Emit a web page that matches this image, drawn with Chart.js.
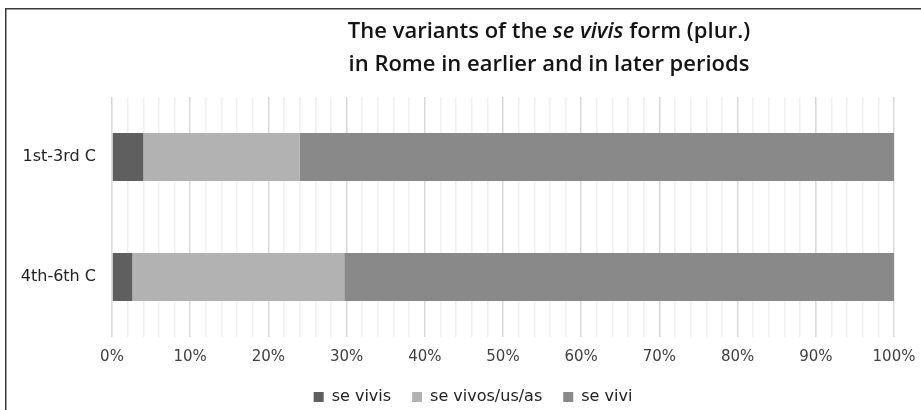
<!DOCTYPE html>
<html>
<head>
<meta charset="utf-8">
<script src="https://cdn.jsdelivr.net/npm/chart.js@4/dist/chart.umd.min.js"></script>
<style>
  html, body { margin: 0; padding: 0; background: #fff; }
  #wrap { width: 921px; height: 410px; position: relative; }
</style>
</head>
<body>
<div id="wrap"><canvas id="c" width="921" height="410"></canvas></div>
<script>
const categories = ["1st-3rd C", "4th-6th C"];
const seVivis = [4.0, 2.6];
const seVivosUsAs = [20.0, 27.1];
const seVivi = [76.0, 70.3];
const seriesNames = ["se vivis", "se vivos/us/as", "se vivi"];
const titleLine1 = [["The variants of the ", false], ["se vivis", true], [" form (plur.)", false]];
const titleLine2 = "in Rome in earlier and in later periods";

const FONT = "'DejaVu Sans', sans-serif";
const TITLE_FONT = "'Open Sans', sans-serif";

const framePlugin = {
  id: 'frame',
  beforeDraw(chart) {
    const ctx = chart.ctx;
    ctx.save();
    ctx.fillStyle = '#fff';
    ctx.fillRect(0, 0, chart.width, chart.height);
    ctx.fillStyle = '#3a3a3a';
    ctx.fillRect(5, 8, chart.width - 5, 1.5);
    ctx.fillRect(5, 8, 1.5, chart.height - 8);
    ctx.restore();
    const lg = chart.legend;
    if (lg && !lg._shifted) {
      const dy = 5, dx = 26;
      lg.top += dy; lg.bottom += dy;
      lg.left += dx; lg.right += dx;
      (lg.legendHitBoxes || []).forEach(h => { h.top += dy; h.left += dx; });
      lg._shifted = true;
    }
  },
  afterDraw(chart) {
    const ctx = chart.ctx;
    ctx.save();
    ctx.fillStyle = '#141414';
    ctx.textBaseline = 'alphabetic';
    const size = 22;
    const cx = 549;
    let total = 0;
    const parts = titleLine1.map(([t, it]) => {
      ctx.font = (it ? 'italic ' : '') + '600 ' + size + 'px ' + TITLE_FONT;
      const w = ctx.measureText(t).width;
      total += w;
      return [t, it, w];
    });
    let x = cx - total / 2;
    ctx.textAlign = 'left';
    parts.forEach(([t, it, w]) => {
      ctx.font = (it ? 'italic ' : '') + '600 ' + size + 'px ' + TITLE_FONT;
      ctx.fillText(t, x, 38);
      x += w;
    });
    ctx.font = '600 ' + size + 'px ' + TITLE_FONT;
    ctx.textAlign = 'center';
    ctx.fillText(titleLine2, cx, 71);
    ctx.restore();
  }
};

new Chart(document.getElementById('c'), {
  type: 'bar',
  data: {
    labels: categories,
    datasets: [
      { label: seriesNames[0], data: seVivis, backgroundColor: '#5f5f5f' },
      { label: seriesNames[1], data: seVivosUsAs, backgroundColor: '#b2b2b2' },
      { label: seriesNames[2], data: seVivi, backgroundColor: '#898989' }
    ]
  },
  options: {
    indexAxis: 'y',
    responsive: false,
    animation: false,
    devicePixelRatio: 1,
    datasets: { bar: { barPercentage: 0.4, categoryPercentage: 1.0, borderWidth: 0 } },
    layout: { padding: { top: 97, right: 27, left: 0, bottom: 0 } },
    scales: {
      x: {
        stacked: true,
        min: 0, max: 100,
        border: { display: false },
        ticks: {
          stepSize: 2,
          autoSkip: false,
          maxRotation: 0,
          padding: 11,
          color: '#404040',
          font: { family: FONT, size: 15 },
          callback: (v) => (v % 10 === 0 ? v + '%' : '')
        },
        grid: {
          drawTicks: false,
          color: (c) => (c.tick && c.tick.value % 10 === 0 ? '#d9d9d9' : '#f0f0f0'),
          lineWidth: 1.5
        },
        afterFit: (s) => { s.height = 26; s.paddingLeft = 0; s.paddingRight = 0; }
      },
      y: {
        stacked: true,
        border: { display: false },
        grid: { display: false, drawTicks: false },
        ticks: {
          color: '#222',
          padding: 16,
          font: { family: FONT, size: 16 }
        },
        afterFit: (s) => { s.width = 112; s.paddingTop = 0; s.paddingBottom = 0; }
      }
    },
    plugins: {
      title: { display: false },
      tooltip: { enabled: false },
      legend: {
        position: 'bottom',
        labels: {
          boxWidth: 10,
          boxHeight: 10,
          padding: 21,
          color: '#222',
          font: { family: FONT, size: 16 }
        }
      }
    }
  },
  plugins: [framePlugin]
});
</script>
</body>
</html>
